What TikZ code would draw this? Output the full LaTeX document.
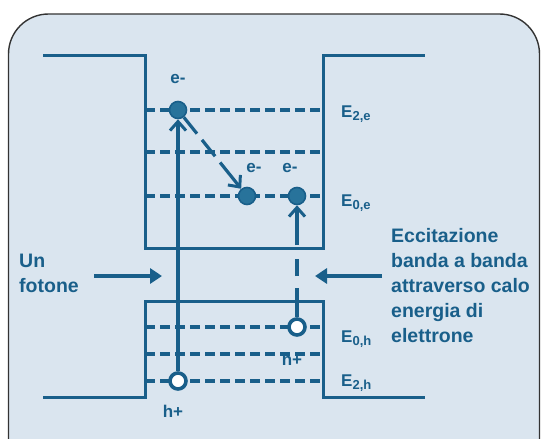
\documentclass[tikz,border=0pt]{standalone}
\usepackage{fontspec}
\setmainfont{Liberation Sans}
\usetikzlibrary{arrows.meta}
\definecolor{bandblue}{RGB}{25,95,138}
\definecolor{elecfill}{RGB}{40,115,155}
\definecolor{panel}{RGB}{218,229,239}
\newcommand{\lvl}[1]{E\raisebox{-3.5pt}{\fontsize{13}{13}\selectfont #1}}

\begin{document}
\begin{tikzpicture}
	[x=1pt, y=-1pt,
	band/.style = {draw=bandblue, line width=3pt},
	level/.style = {draw=bandblue, line width=3.4pt, dash pattern=on 10pt off 5pt},
	elec/.style = {draw=bandblue, fill=elecfill, circle, line width=1.6pt, minimum size=17pt, inner sep=0pt},
	hole/.style = {draw=bandblue, fill=white, circle, line width=3.6pt, minimum size=16pt, inner sep=0pt},
	lbl/.style = {text=bandblue, font=\bfseries\fontsize{17}{17}\selectfont, inner sep=0pt},
	txt/.style = {text=bandblue, font=\bfseries\fontsize{19.5}{25}\selectfont, align=left, inner sep=0pt},
	jump/.style = {draw=bandblue, line width=3.2pt, -{Straight Barb[length=9pt,width=16pt,line width=3pt]}},
	beam/.style = {draw=bandblue, line width=3.6pt, -{Triangle[length=12pt,width=15pt]}}]
	\useasboundingbox (0,0) rectangle (541,439);
	\filldraw[fill=panel, draw=black!80, line width=1.4pt, rounded corners=40pt] (8.5,14) rectangle (539.5,480);
	\draw[band] (43,55) -- (145,55) -- (145,248) -- (323,248) -- (323,55) -- (425,55);
	\draw[band] (43,397) -- (145,397) -- (145,301) -- (323,301) -- (323,397) -- (425,397);
	\foreach \y in {110,152,196,327,354,381}
		\draw[level] (145,\y) -- (323,\y);
	\node[elec] (e2) at (178,110) {};
	\node[elec] (e0a) at (247,196) {};
	\node[elec] (e0b) at (297,196) {};
	\node[hole] (h2) at (178,381) {};
	\node[hole] (h0) at (297,327) {};
	\node[lbl] (le2) at (178,79) {e-};
	\node[lbl] (le0a) at (254,168) {e-};
	\node[lbl] (le0b) at (290,168) {e-};
	\node[lbl] (lh2) at (173,411) {h+};
	\node[lbl] (lh0) at (292,359) {h+};
	\draw[jump] (h2) -- (e2);
	\draw[jump, dash pattern=on 21pt off 8pt on 21pt off 8pt on 40pt off 1pt] (e2) -- (e0a);
	\draw[jump, dash pattern=on 29pt off 12pt on 17pt off 14pt on 60pt off 1pt] (h0) -- (e0b);
	\node[lbl, anchor=base west] (n2e) at (341,117) {\lvl{2,e}};
	\node[lbl, anchor=base west] (n0e) at (341,206) {\lvl{0,e}};
	\node[lbl, anchor=base west] (n0h) at (341,342) {\lvl{0,h}};
	\node[lbl, anchor=base west] (n2h) at (341,386) {\lvl{2,h}};
	\node[txt, anchor=north west] (foton) at (19,254) {Un\\fotone};
	\node[txt, anchor=north west] (eccit) at (391,228) {Eccitazione\\banda a banda\\attraverso calo\\energia di\\elettrone};
	\coordinate (fin) at (94,276);
	\coordinate (fout) at (162,276);
	\coordinate (rin) at (382,276);
	\coordinate (rout) at (315,276);
	\draw[beam] (fin) -- (fout);
	\draw[beam] (rin) -- (rout);
\end{tikzpicture}
\end{document}
